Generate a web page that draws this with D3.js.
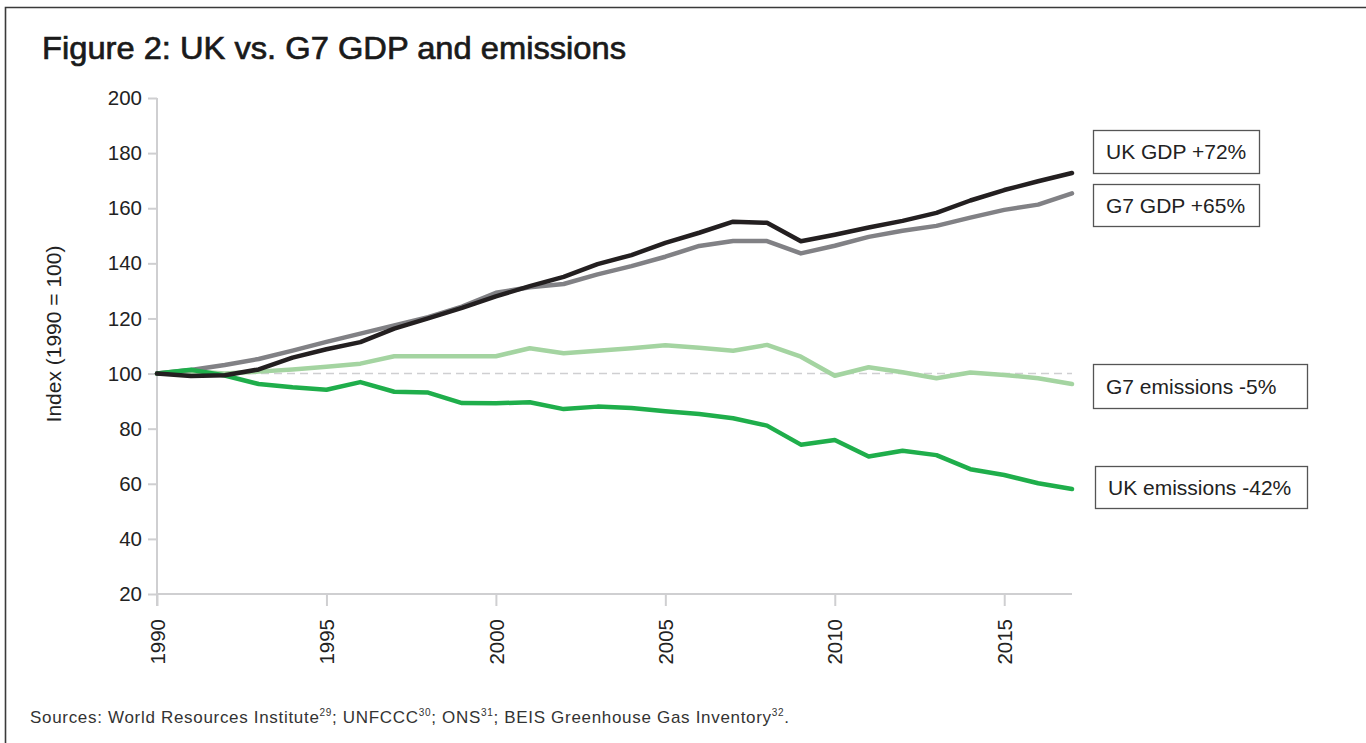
<!DOCTYPE html>
<html><head><meta charset="utf-8">
<script src="https://cdn.jsdelivr.net/npm/d3@7"></script>
<style>
html,body{margin:0;padding:0;background:#fff;}
svg{display:block;font-family:"Liberation Sans",Arial,Helvetica,sans-serif;}
svg text{font-family:"Liberation Sans",Arial,Helvetica,sans-serif;}
</style></head>
<body>
<svg id="chart" width="1366" height="743"></svg>
<script>
const years = d3.range(1990, 2018);
const ukGdp = [100, 99.1, 99.4, 101.5, 105.8, 108.8, 111.4, 116.3, 120, 123.8, 128, 131.7, 135.1, 139.7, 143, 147.4, 151.1, 155.1, 154.7, 148, 150.4, 153, 155.4, 158.3, 162.8, 166.6, 169.8, 172.8];
const g7Gdp = [100, 101.3, 103.1, 105.3, 108.3, 111.5, 114.5, 117.5, 120.5, 124.3, 129.3, 131.3, 132.5, 136, 139, 142.4, 146.3, 148.1, 148.1, 143.6, 146.4, 149.6, 151.8, 153.6, 156.6, 159.4, 161.3, 165.4];
const g7Em = [100, 100.8, 100, 100.7, 101.5, 102.5, 103.6, 106.3, 106.3, 106.3, 106.3, 109.2, 107.4, 108.3, 109.2, 110.3, 109.4, 108.3, 110.4, 106.1, 99.2, 102.3, 100.5, 98.3, 100.4, 99.5, 98.3, 96.2];
const ukEm = [100, 101.4, 99.3, 96.2, 95, 94.1, 96.9, 93.4, 93.1, 89.3, 89.2, 89.6, 87.1, 88, 87.5, 86.3, 85.3, 83.8, 81.1, 74.2, 75.9, 69.9, 72, 70.4, 65.3, 63.2, 60.2, 58.1];
const yTicks = [20, 40, 60, 80, 100, 120, 140, 160, 180, 200];
const xTicks = [1990, 1995, 2000, 2005, 2010, 2015];
const seriesNames = ["G7 emissions", "G7 GDP", "UK emissions", "UK GDP"];
const seriesColors = ["#a4d4a1", "#818185", "#1fae4b", "#231f20"];
const labelTexts = ["UK GDP +72%", "G7 GDP +65%", "G7 emissions -5%", "UK emissions -42%"];
const title = "Figure 2: UK vs. G7 GDP and emissions";

const svg = d3.select("#chart");
const x = d3.scaleLinear().domain([1990, 2017]).range([157, 1072]);
const y = d3.scaleLinear().domain([20, 200]).range([594, 98]);

// frame
svg.append("path").attr("d", "M5.5,743 L5.5,7.5 L1366,7.5")
  .attr("fill", "none").attr("stroke", "#3a3a3a").attr("stroke-width", 1.6);

svg.append("text").attr("x", 42).attr("y", 59).attr("font-size", 32)
  .attr("fill", "#1a1a1a").attr("stroke", "#1a1a1a").attr("stroke-width", 0.7)
  .attr("textLength", 584).attr("lengthAdjust", "spacingAndGlyphs").text(title);

// y axis
const yAxis = svg.append("g").attr("transform", "translate(157,0)")
  .call(d3.axisLeft(y).tickValues(yTicks).tickSize(9).tickPadding(6));
yAxis.attr("font-family", null).attr("font-size", null);
yAxis.select(".domain").attr("stroke", "#cfcfd1").attr("stroke-width", 2)
  .attr("d", "M0,98V606");
yAxis.selectAll(".tick line").attr("stroke", "#cfcfd1").attr("stroke-width", 2);
yAxis.selectAll(".tick text").style("font-size", "20.5px").attr("fill", "#222");

// x axis
const xAxis = svg.append("g").attr("transform", "translate(0,594)")
  .call(d3.axisBottom(x).tickValues(xTicks).tickFormat(d3.format("d")).tickSize(12).tickPadding(6));
xAxis.attr("font-family", null).attr("font-size", null);
xAxis.select(".domain").attr("stroke", "#cfcfd1").attr("stroke-width", 2)
  .attr("d", "M157,0H1072");
xAxis.selectAll(".tick line").attr("stroke", "#cfcfd1").attr("stroke-width", 2);
xAxis.selectAll(".tick text").style("font-size", "20.5px").attr("fill", "#222")
  .attr("transform", "rotate(-90)").attr("text-anchor", "end")
  .attr("x", -25).attr("y", 0).attr("dy", "0.35em");

// y label
svg.append("text").attr("transform", "translate(61,334) rotate(-90)")
  .attr("text-anchor", "middle").style("font-size", "21px").attr("fill", "#222")
  .text("Index (1990 = 100)");

// reference line
svg.append("line").attr("x1", x(1990)).attr("x2", x(2017))
  .attr("y1", y(100)).attr("y2", y(100))
  .attr("stroke", "#cfcfd1").attr("stroke-width", 1.6).attr("stroke-dasharray", "8,5");

const line = d3.line().x((d, i) => x(years[i])).y(d => y(d));
const data = [g7Em, g7Gdp, ukEm, ukGdp];
data.forEach((s, i) => {
  svg.append("path").datum(s).attr("d", line).attr("fill", "none")
    .attr("stroke", seriesColors[i]).attr("stroke-width", 4.5)
    .attr("stroke-linejoin", "round").attr("stroke-linecap", "round")
    .attr("data-name", seriesNames[i]);
});

// label boxes
const boxes = [
  {x: 1093, y: 130, w: 166, h: 43},
  {x: 1093, y: 184, w: 166, h: 42},
  {x: 1093, y: 364, w: 214, h: 44},
  {x: 1095, y: 466, w: 212, h: 42}
];
boxes.forEach((b, i) => {
  svg.append("rect").attr("x", b.x + 0.5).attr("y", b.y + 0.5).attr("width", b.w).attr("height", b.h)
    .attr("fill", "#fff").attr("stroke", "#555").attr("stroke-width", 1.3);
  svg.append("text").attr("x", b.x + 13).attr("y", b.y + b.h / 2 + 7.5)
    .style("font-size", "21px").attr("fill", "#222").text(labelTexts[i]);
});

// sources
const src = svg.append("text").attr("x", 30).attr("y", 723).style("font-size", "17px")
  .attr("fill", "#333").attr("textLength", 759).attr("lengthAdjust", "spacing");
const parts = [["Sources: World Resources Institute", "29"], ["; UNFCCC", "30"], ["; ONS", "31"], ["; BEIS Greenhouse Gas Inventory", "32"], [".", null]];
parts.forEach(p => {
  src.append("tspan").attr("y", 723).text(p[0]);
  if (p[1]) {
    src.append("tspan").attr("y", 716).style("font-size", "10px").text(p[1]);
  }
});
</script>
</body></html>
